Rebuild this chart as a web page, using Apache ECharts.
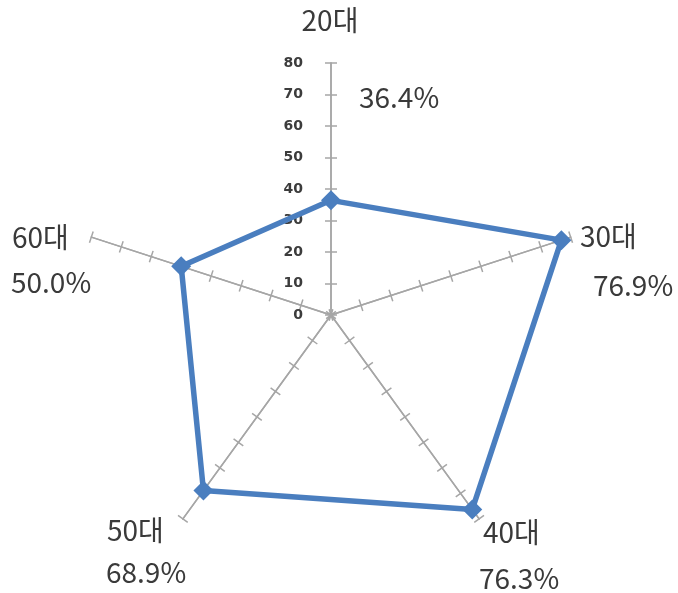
<!DOCTYPE html>
<html>
<head>
<meta charset="utf-8">
<script src="https://cdn.jsdelivr.net/npm/echarts@6/dist/echarts.min.js"></script>
<style>
  html, body { margin: 0; padding: 0; background: #ffffff; }
  #chart { width: 678px; height: 593px; }
</style>
</head>
<body>
<div id="chart"></div>
<script>
// Age groups and share (%) per group
const categories = ['20대', '30대', '40대', '50대', '60대'];
const values = [36.4, 76.9, 76.3, 68.9, 50.0];
const tickLabels = ['0', '10', '20', '30', '40', '50', '60', '70', '80'];
const axisMax = 80;

// Placement of the two-line category / percentage captions
const namePos = [[330, 20, 'center'], [580, 236, 'left'], [483, 532, 'left'], [107, 530, 'left'], [12, 237, 'left']];
const pctPos = [[359, 97, 'left'], [593, 285, 'left'], [479, 578, 'left'], [106, 572, 'left'], [11, 282, 'left']];

const CENTER = [331, 315];
const RADIUS = 252;
const AXIS_GREY = '#a6a6a6';
const BLUE = '#4a7ebf';
const TEXT = '#3a3a3a';
const FONT = '"Noto Sans CJK KR", "Noto Sans", sans-serif';

// ECharts lays out radar indicators counter-clockwise; walk the groups so they run clockwise.
const order = [0, 4, 3, 2, 1];

function indicators(withLabels) {
  return order.map(function (i, k) {
    const ind = { name: categories[i], min: 0, max: axisMax };
    if (!withLabels || k !== 0) ind.axisLabel = { show: false };
    return ind;
  });
}

// Two stacked radar frames: one draws ticks on one side of each axis, the other on the opposite side.
function radarBase(tickLen, withLabels) {
  return {
    center: CENTER,
    radius: RADIUS,
    startAngle: 90,
    splitNumber: tickLabels.length - 1,
    shape: 'polygon',
    indicator: indicators(withLabels),
    axisName: { show: false },
    axisLine: { show: true, lineStyle: { color: AXIS_GREY, width: 1.5 } },
    axisTick: { show: true, length: tickLen, lineStyle: { color: AXIS_GREY, width: 1.5 } },
    axisLabel: {
      show: withLabels,
      margin: 28,
      color: '#3c3c3c',
      fontSize: 14,
      fontWeight: 'bold',
      fontFamily: 'DejaVu Sans',
      formatter: function (v) { return tickLabels[Math.round(v / 10)]; }
    },
    splitLine: { show: false },
    splitArea: { show: false }
  };
}

const captions = [];
categories.forEach(function (c, i) {
  captions.push({
    type: 'text', x: namePos[i][0], y: namePos[i][1],
    style: { text: c, font: '28px ' + FONT, fill: TEXT, align: namePos[i][2], verticalAlign: 'middle' }
  });
  captions.push({
    type: 'text', x: pctPos[i][0], y: pctPos[i][1],
    style: { text: values[i].toFixed(1) + '%', font: '28px ' + FONT, fill: TEXT, align: pctPos[i][2], verticalAlign: 'middle' }
  });
});

const chart = echarts.init(document.getElementById('chart'), null, { renderer: 'canvas' });
chart.setOption({
  backgroundColor: '#ffffff',
  animation: false,
  radar: [radarBase(6, true), radarBase(-6, false)],
  series: [{
    type: 'radar',
    radarIndex: 0,
    symbol: 'diamond',
    symbolSize: 20,
    lineStyle: { color: BLUE, width: 5.5 },
    itemStyle: { color: BLUE },
    data: [{ value: order.map(function (i) { return values[i]; }) }]
  }],
  graphic: captions
});
</script>
</body>
</html>
